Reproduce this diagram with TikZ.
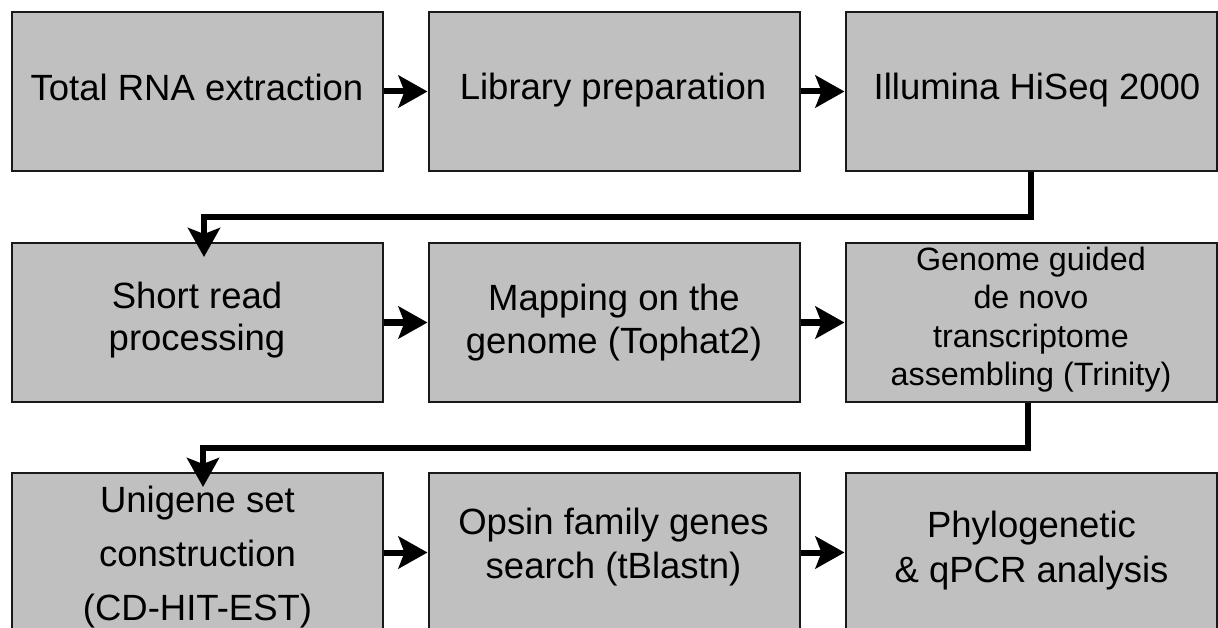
\documentclass[tikz,border=0pt]{standalone}
\usepackage{fontspec}
\setmainfont{Liberation Sans}
\usetikzlibrary{arrows.meta,calc}
\definecolor{boxfill}{RGB}{192,192,192}
\definecolor{boxline}{RGB}{25,25,25}
\begin{document}
\begin{tikzpicture}[x=1pt,y=-1pt,
  stepbox/.style={draw=boxline, fill=boxfill, line width=2pt, minimum width=371pt, minimum height=159pt, inner sep=0pt},
  txt/.style={anchor=north, inner sep=0pt, align=center, font=\fontsize{36.5}{43}\selectfont},
  conn/.style={line width=6pt, line join=miter, -{Stealth[length=29pt,width=32pt,inset=6pt]}}]
\useasboundingbox (0,0) rectangle (1218,628);
% boxes
\node[stepbox] (b1) at (197.5,91.5) {};
\node[stepbox] (b2) at (614,91.5) {};
\node[stepbox] (b3) at (1031,91.5) {};
\node[stepbox] (b4) at (197.5,322.5) {};
\node[stepbox] (b5) at (614,322.5) {};
\node[stepbox] (b6) at (1031,322.5) {};
\node[stepbox] (b7) at (197.5,552.5) {};
\node[stepbox] (b8) at (614,552.5) {};
\node[stepbox] (b9) at (1031,552.5) {};
% connectors
\draw[conn] (b1) -- (b2);
\draw[conn] (b2) -- (b3);
\draw[conn] (b4) -- (b5);
\draw[conn] (b5) -- (b6);
\draw[conn] (b7) -- (b8);
\draw[conn] (b8) -- (b9);
\coordinate (k1) at (204,217);
\draw[conn, shorten >=-15pt] (b3.south) |- (k1) -- (k1 |- b4.north);
\coordinate (k2) at (203,448);
\draw[conn, shorten >=-15pt] ($(b6.south)+(-3,0)$) |- (k2) -- (k2 |- b7.north);
% texts
\node[txt] (t1) at (197,74) {Total RNA extraction};
\node[txt] (t2) at (613,73) {Library preparation};
\node[txt] (t3) at (1037,73) {Illumina HiSeq 2000};
\node[txt, font=\fontsize{36.5}{42}\selectfont] (t4) at (197,282) {Short read\\processing};
\node[txt, font=\fontsize{36.5}{43}\selectfont] (t5) at (614,284) {Mapping on the\\genome (Tophat2)};
\node[txt, font=\fontsize{32.3}{38.3}\selectfont] (t6) at (1031,247) {Genome guided\\de novo\\transcriptome\\assembling (Trinity)};
\node[txt, font=\fontsize{36.5}{54}\selectfont] (t7) at (197.5,486) {Unigene set\\construction\\(CD-HIT-EST)};
\node[txt, font=\fontsize{36.5}{44}\selectfont] (t8) at (613.5,508) {Opsin family genes\\search (tBlastn)};
\node[txt, font=\fontsize{36.5}{45}\selectfont] (t9) at (1031.5,511) {Phylogenetic\\\& qPCR analysis};
\end{tikzpicture}
\end{document}
